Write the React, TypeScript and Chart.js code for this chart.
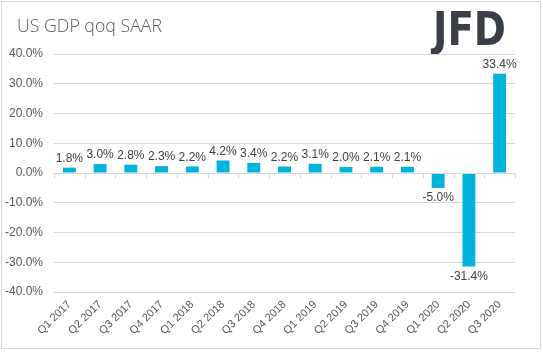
import React, { useEffect, useRef } from "react";
import { Chart, registerables } from "chart.js";

Chart.register(...registerables);

const categories = [
  "Q1 2017", "Q2 2017", "Q3 2017", "Q4 2017",
  "Q1 2018", "Q2 2018", "Q3 2018", "Q4 2018",
  "Q1 2019", "Q2 2019", "Q3 2019", "Q4 2019",
  "Q1 2020", "Q2 2020", "Q3 2020",
];
const gdpValues = [1.8, 3.0, 2.8, 2.3, 2.2, 4.2, 3.4, 2.2, 3.1, 2.0, 2.1, 2.1, -5.0, -31.4, 33.4];
const yTicks = [-40, -30, -20, -10, 0, 10, 20, 30, 40];
const titleText = "US GDP qoq SAAR";
const logoText = "JFD";

const fmt = (v: number) => v.toFixed(1) + "%";

const decorPlugin = {
  id: "decor",
  beforeDraw(chart: any) {
    const ctx = chart.ctx;
    ctx.save();
    ctx.fillStyle = "#ffffff";
    ctx.fillRect(0, 0, chart.width, chart.height);
    ctx.strokeStyle = "#d9d9d9";
    ctx.lineWidth = 1;
    ctx.strokeRect(1.5, 1.5, 539, 347);
    // title
    ctx.fillStyle = "#595959";
    ctx.font = "300 19px 'Open Sans', sans-serif";
    ctx.textBaseline = "middle";
    ctx.textAlign = "left";
    const tw = ctx.measureText(titleText).width;
    ctx.save();
    ctx.translate(17, 27);
    ctx.scale(145 / tw, 1);
    ctx.fillText(titleText, 0, 0);
    ctx.restore();
    // logo
    ctx.fillStyle = "#3a3f47";
    ctx.font = "bold 47px 'DejaVu Sans', sans-serif";
    ctx.textBaseline = "alphabetic";
    const lw = ctx.measureText(logoText).width;
    ctx.save();
    ctx.translate(433, 45);
    ctx.scale(73 / lw, 1);
    ctx.fillText(logoText, 0, 0);
    ctx.restore();
    ctx.restore();
  },
  afterDatasetsDraw(chart: any) {
    const ctx = chart.ctx;
    const x = chart.scales.x;
    const y = chart.scales.y;
    const area = chart.chartArea;
    const y0 = Math.round(y.getPixelForValue(0)) + 0.5;
    ctx.save();
    ctx.strokeStyle = "#d9d9d9";
    ctx.lineWidth = 1;
    ctx.beginPath();
    ctx.moveTo(area.left, y0);
    ctx.lineTo(area.right, y0);
    const n = categories.length;
    for (let i = 0; i <= n; i++) {
      const px = Math.round(area.left + ((area.right - area.left) * i) / n) + 0.5;
      ctx.moveTo(px, y0);
      ctx.lineTo(px, y0 + 5);
    }
    ctx.stroke();
    // data labels
    const meta = chart.getDatasetMeta(0);
    ctx.fillStyle = "#404040";
    ctx.font = "12px 'Liberation Sans', sans-serif";
    ctx.textAlign = "center";
    meta.data.forEach((bar: any, i: number) => {
      const v = gdpValues[i];
      if (v >= 0) {
        ctx.textBaseline = "bottom";
        ctx.fillText(fmt(v), bar.x, bar.y - 3);
      } else {
        ctx.textBaseline = "top";
        ctx.fillText(fmt(v), bar.x, bar.y + 4);
      }
    });
    ctx.restore();
  },
};

export default function App() {
  const ref = useRef<HTMLCanvasElement | null>(null);
  useEffect(() => {
    document.body.style.margin = "0";
    const canvas = ref.current!;
    const chart = new Chart(canvas, {
      type: "bar",
      data: {
        labels: categories,
        datasets: [
          {
            data: gdpValues,
            backgroundColor: "#00b4dc",
            barPercentage: 0.42,
            categoryPercentage: 1,
          },
        ],
      },
      options: {
        responsive: false,
        animation: false,
        devicePixelRatio: 1,
        layout: { padding: { top: 54, right: 28, left: 0, bottom: 0 } },
        plugins: { legend: { display: false }, tooltip: { enabled: false }, title: { display: false } },
        scales: {
          x: {
            grid: { display: false, drawTicks: false },
            border: { display: false },
            ticks: {
              minRotation: 45,
              maxRotation: 45,
              autoSkip: false,
              padding: 6,
              color: "#595959",
              font: { size: 11, family: "'Liberation Sans', sans-serif" },
            },
            afterFit: (s: any) => {
              s.height = 60;
            },
          },
          y: {
            min: -40,
            max: 40,
            afterBuildTicks: (s: any) => {
              s.ticks = yTicks.map((v) => ({ value: v }));
            },
            grid: { color: "#d9d9d9", drawTicks: false },
            border: { display: false },
            ticks: {
              padding: 11,
              color: "#595959",
              font: { size: 12, family: "'Liberation Sans', sans-serif" },
              callback: (v: any) => fmt(Number(v)),
            },
            afterFit: (s: any) => {
              s.width = 54;
            },
          },
        },
      },
      plugins: [decorPlugin],
    });
    return () => chart.destroy();
  }, []);
  return <canvas ref={ref} width={543} height={352} style={{ display: "block" }} />;
}
